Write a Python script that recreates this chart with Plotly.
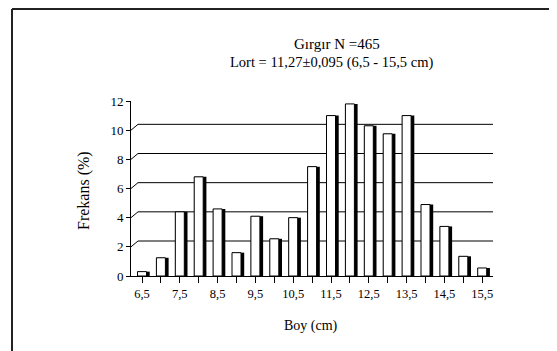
import plotly.graph_objects as go

# ---- data ----
boy = [6.5, 7.0, 7.5, 8.0, 8.5, 9.0, 9.5, 10.0, 10.5, 11.0,
       11.5, 12.0, 12.5, 13.0, 13.5, 14.0, 14.5, 15.0, 15.5]
frekans = [0.3, 1.25, 4.4, 6.8, 4.6, 1.6, 4.1, 2.55, 4.0, 7.5,
           11.0, 11.8, 10.3, 9.75, 11.0, 4.9, 3.4, 1.35, 0.55]
x_labels = ["6,5", "", "7,5", "", "8,5", "", "9,5", "", "10,5", "",
            "11,5", "", "12,5", "", "13,5", "", "14,5", "", "15,5"]
y_ticks = [0, 2, 4, 6, 8, 10, 12]
grid_vals = [2, 4, 6, 8, 10]

title1 = "Gırgır N =465"
title2 = "Lort = 11,27±0,095 (6,5 - 15,5 cm)"
y_title = "Frekans (%)"
x_title = "Boy (cm)"

# ---- layout geometry (page pixel coordinates; page body has an 8px margin) ----
W, H = 557, 351
OFF = 8
PL, PR, PT, PB = 131, 493, 101, 276          # plot area on the page
PW, PH = PR - PL, PB - PT
ML, MT = PL - OFF, PT - OFF
MR, MB = W - (PR - OFF), H - (PB - OFF)
FONT = "Liberation Serif"


def px(x):
    return (x - PL) / PW


def py(y):
    return (PB - y) / PH


face_w = 0.238
side_w = 0.085
depth = 0.4  # 3D back-wall offset for gridlines

fig = go.Figure()
# black side faces
fig.add_trace(go.Bar(x=boy, y=frekans, width=face_w + side_w, offset=-face_w / 2,
                     marker=dict(color="black", line=dict(width=0)),
                     hoverinfo="skip", showlegend=False))
# white front faces
fig.add_trace(go.Bar(x=boy, y=frekans, width=face_w, offset=-face_w / 2,
                     marker=dict(color="white", line=dict(color="black", width=1)),
                     showlegend=False))

shapes = []
for g in grid_vals:
    shapes.append(dict(type="line", xref="paper", yref="y", x0=7 / PW, x1=1,
                       y0=g + depth, y1=g + depth, line=dict(color="black", width=1),
                       layer="below"))
for g in y_ticks[1:-1]:
    shapes.append(dict(type="line", xref="paper", yref="y", x0=0, x1=7 / PW,
                       y0=g, y1=g + depth, line=dict(color="black", width=1),
                       layer="below"))
# outer frame (top and left edges visible)
shapes.append(dict(type="line", xref="paper", yref="paper", x0=px(12), x1=px(W + 10),
                   y0=py(9), y1=py(9), line=dict(color="#222", width=2)))
shapes.append(dict(type="line", xref="paper", yref="paper", x0=px(12), x1=px(12),
                   y0=py(9), y1=py(H + 10), line=dict(color="#222", width=2)))

annotations = [
    dict(text=title1, xref="paper", yref="paper", x=px(337), y=py(44),
         showarrow=False, font=dict(family=FONT, size=15, color="black"),
         xanchor="center", yanchor="middle"),
    dict(text=title2, xref="paper", yref="paper", x=px(331), y=py(62),
         showarrow=False, font=dict(family=FONT, size=14.5, color="black"),
         xanchor="center", yanchor="middle"),
    dict(text=y_title, xref="paper", yref="paper", x=px(84), y=py(191),
         showarrow=False, textangle=-90, font=dict(family=FONT, size=16, color="black"),
         xanchor="center", yanchor="middle"),
    dict(text=x_title, xref="paper", yref="paper", x=px(311), y=py(326),
         showarrow=False, font=dict(family=FONT, size=14, color="black"),
         xanchor="center", yanchor="middle"),
]

left = 6.5 - (142 - PL) / 37.8
right = left + PW / 37.8

fig.update_layout(
    width=W, height=H,
    margin=dict(l=ML, r=MR, t=MT, b=MB),
    paper_bgcolor="white", plot_bgcolor="white",
    barmode="overlay",
    shapes=shapes, annotations=annotations,
    font=dict(family=FONT, size=12, color="black"),
    xaxis=dict(range=[left, right], tickmode="array", tickvals=boy, ticktext=x_labels,
               ticks="outside", ticklen=6, tickcolor="black", showgrid=False,
               showline=True, linecolor="black", linewidth=1, zeroline=False,
               tickfont=dict(family=FONT, size=12.5, color="black")),
    yaxis=dict(range=[0, 12], tickmode="array", tickvals=y_ticks,
               ticktext=[str(v) for v in y_ticks],
               ticks="outside", ticklen=4, tickcolor="black", showgrid=False,
               showline=True, linecolor="black", linewidth=1, zeroline=False,
               tickfont=dict(family=FONT, size=13, color="black")),
)

fig.write_html("out.html")
